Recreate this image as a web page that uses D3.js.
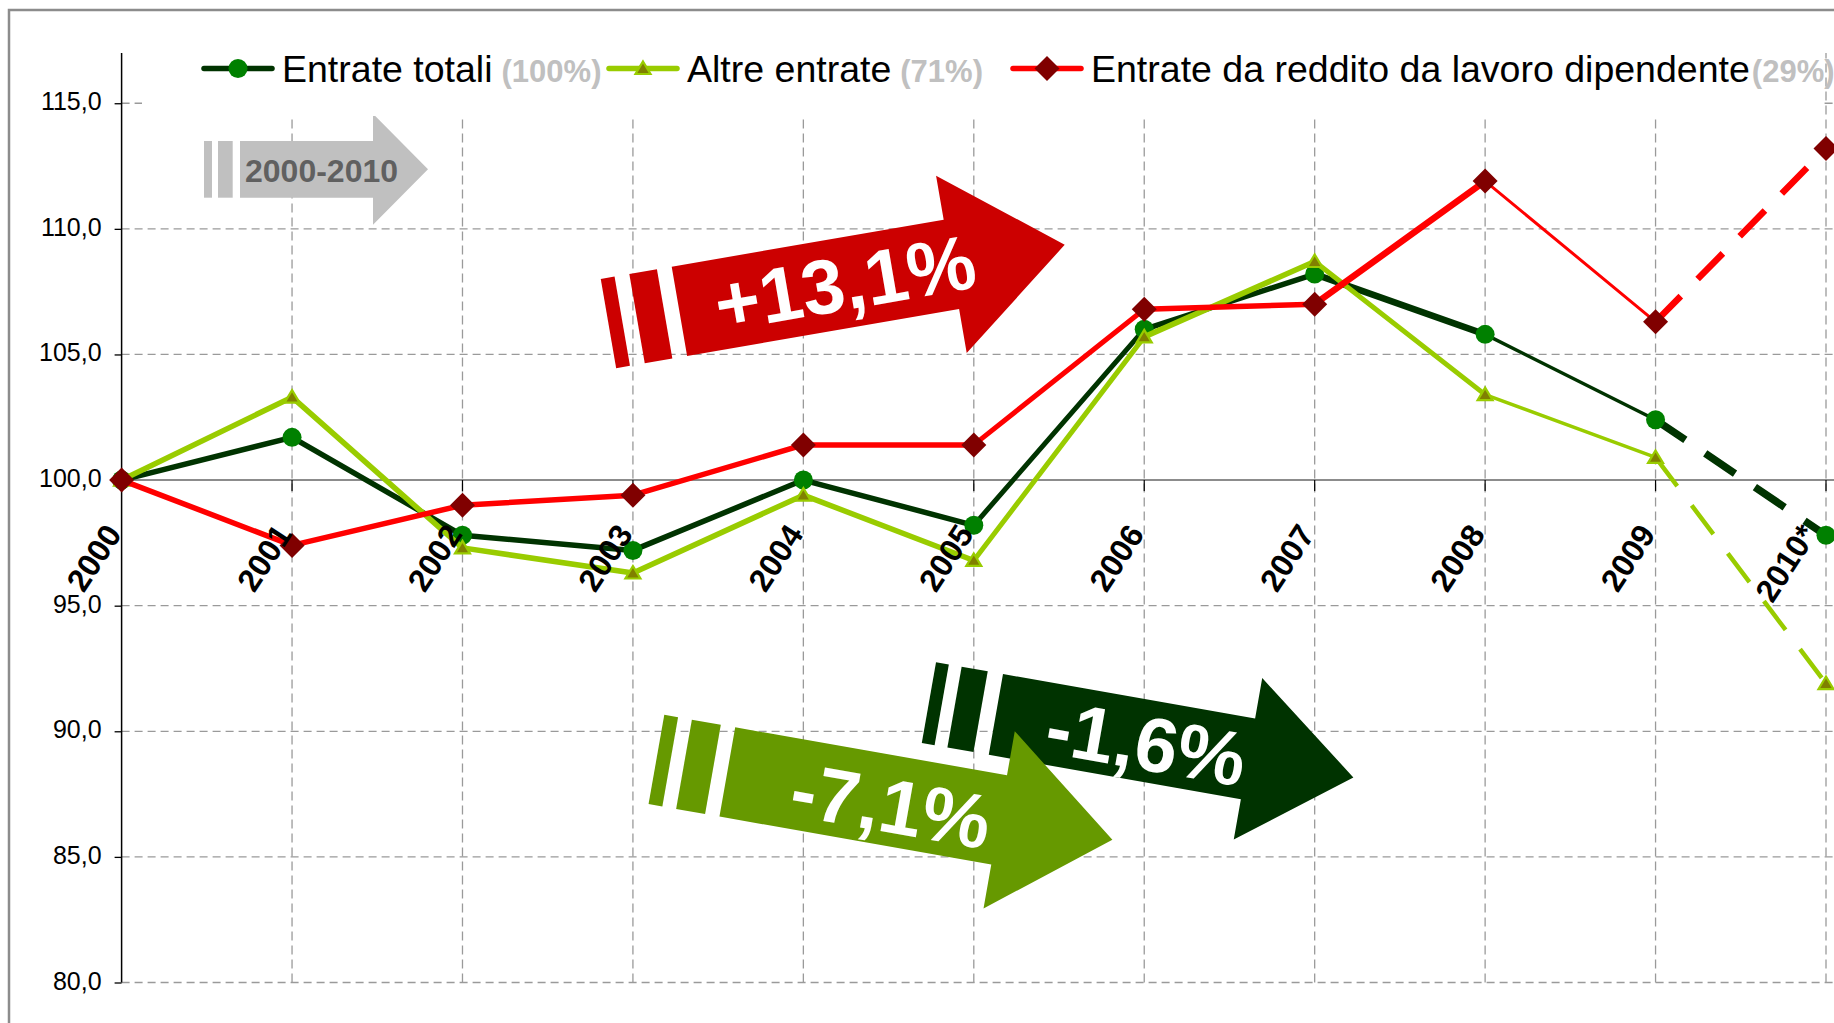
<!DOCTYPE html>
<html>
<head>
<meta charset="utf-8">
<script src="https://cdn.jsdelivr.net/npm/d3@7"></script>
<style>
  body { margin: 0; background: #fff; }
  svg { display: block; font-family: "Liberation Sans", Arial, sans-serif; }
</style>
</head>
<body>
<svg id="chart" width="1834" height="1023"></svg>
<script>
// data (index 2000 = 100)
var years = ["2000", "2001", "2002", "2003", "2004", "2005", "2006", "2007", "2008", "2009", "2010*"]
var entrateTotali = [100, 101.7, 97.8, 97.2, 100.0, 98.2, 106.0, 108.2, 105.8, 102.4, 97.8]
var altreEntrate = [100, 103.3, 97.3, 96.3, 99.4, 96.8, 105.7, 108.7, 103.4, 100.9, 91.9]
var redditoLavoro = [100, 97.4, 99.0, 99.4, 101.4, 101.4, 106.8, 107.0, 111.9, 106.3, 113.2]
var yTicks = [80, 85, 90, 95, 100, 105, 110, 115]
var legendNames = ["Entrate totali", "Altre entrate", "Entrate da reddito da lavoro dipendente"]
var legendShares = ["(100%)", "(71%)", "(29%)"]
var arrowLabels = ["2000-2010", "+13,1%", "-1,6%", "-7,1%"]

var svg = d3.select("#chart")

// italian number format: 115,0
var itFormat = d3.formatLocale({ decimal: ",", thousands: ".", grouping: [3], currency: ["", "€"] }).format(".1f")

var x = d3.scalePoint()
  .domain(years)
  .range([121.6, 1826])

var y = d3.scaleLinear()
  .domain([80, 117])
  .range([982.5, 53])

// outer frame of the original chart (only top and left are visible)
svg.append("path")
  .attr("d", "M9,1023 V10 H1834")
  .attr("fill", "none")
  .attr("stroke", "#8c8c8c")
  .attr("stroke-width", 2.5)

// horizontal dashed grid
svg.append("g")
  .selectAll("line")
  .data(yTicks.filter(function(d) { return d != 100 }))
  .join("line")
  .attr("x1", x(years[0]))
  .attr("x2", 1834)
  .attr("y1", function(d) { return y(d) })
  .attr("y2", function(d) { return y(d) })
  .attr("stroke", "#9a9a9a")
  .attr("stroke-width", 1.3)
  .attr("stroke-dasharray", "8,5")

// vertical dashed grid
svg.append("g")
  .selectAll("line")
  .data(years.slice(1))
  .join("line")
  .attr("x1", function(d) { return x(d) })
  .attr("x2", function(d) { return x(d) })
  .attr("y1", y(80))
  .attr("y2", y(117))
  .attr("stroke", "#9a9a9a")
  .attr("stroke-width", 1.3)
  .attr("stroke-dasharray", "9,5")

// category axis crosses at 100
svg.append("line")
  .attr("x1", x(years[0]))
  .attr("x2", 1834)
  .attr("y1", y(100))
  .attr("y2", y(100))
  .attr("stroke", "#666")
  .attr("stroke-width", 1.6)

svg.append("g")
  .selectAll("line")
  .data(years)
  .join("line")
  .attr("x1", function(d) { return x(d) })
  .attr("x2", function(d) { return x(d) })
  .attr("y1", y(100))
  .attr("y2", y(100) + 11)
  .attr("stroke", "#000")
  .attr("stroke-width", 1.2)

// value axis
var yAxis = svg.append("g")
  .attr("transform", "translate(" + x(years[0]) + ",0)")
  .call(d3.axisLeft(y).tickValues(yTicks).tickFormat(itFormat).tickSize(7).tickPadding(13))

yAxis.select(".domain")
  .attr("d", "M0," + y(117) + "V" + y(80))
  .attr("stroke", "#000")
  .attr("stroke-width", 1.5)

yAxis.selectAll(".tick line").attr("stroke", "#000").attr("stroke-width", 1.3)
yAxis.selectAll(".tick text")
  .attr("font-family", "Liberation Sans, Arial, sans-serif")
  .attr("font-size", 25)
  .attr("fill", "#000")
  .attr("dy", "0.26em")

//////////////////////////////////////// the big arrows
var arrows = [
  { label: arrowLabels[0], x: 240, y: 141, angle: 0, len: 133, h: 56.7, head: 55.5, tip: 55,
    stripes: [[-36, -28], [-22, -7.3]], color: "#c0c0c0", textColor: "#606060", fontSize: 32, tx: 5, ty: 40.7, anchor: "start" },
  { label: arrowLabels[1], x: 671.7, y: 266.7, angle: -9.8, len: 276, h: 90.6, head: 90, tip: 115,
    stripes: [[-72, -58], [-43, -15]], color: "#cc0000", textColor: "#fff", fontSize: 77, tx: 168, ty: 45.3 + 27, anchor: "middle" },
  { label: arrowLabels[2], x: 1003, y: 674, angle: 10, len: 256, h: 82, head: 82, tip: 107,
    stripes: [[-68, -55], [-42, -15.5]], color: "#003300", textColor: "#fff", fontSize: 77, tx: 153, ty: 43 + 27, anchor: "middle" },
  { label: arrowLabels[3], x: 735.2, y: 727.3, angle: 10, len: 276, h: 90.6, head: 90, tip: 115,
    stripes: [[-72, -58], [-44, -14.6]], color: "#669900", textColor: "#fff", fontSize: 77, tx: 167, ty: 50 + 27, anchor: "middle" }
]

arrows.forEach(function(a) {
  var grp = svg.append("g")
    .attr("transform", "translate(" + a.x + "," + a.y + ") rotate(" + a.angle + ")")

  a.stripes.forEach(function(s) {
    grp.append("rect")
      .attr("x", s[0])
      .attr("y", 0)
      .attr("width", s[1] - s[0])
      .attr("height", a.h)
      .attr("fill", a.color)
  })

  var c = a.h / 2
  var pts = [[0, 0], [a.len, 0], [a.len, c - a.head], [a.len + a.tip, c], [a.len, c + a.head], [a.len, a.h], [0, a.h]]
  grp.append("polygon")
    .attr("points", pts.map(function(p) { return p.join(",") }).join(" "))
    .attr("fill", a.color)

  grp.append("text")
    .attr("x", a.tx)
    .attr("y", a.ty)
    .attr("text-anchor", a.anchor)
    .attr("font-weight", "bold")
    .attr("font-size", a.fontSize)
    .attr("fill", a.textColor)
    .text(a.label)
})

//////////////////////////////////////// series
var series = [
  { values: entrateTotali, color: "#003300", widths: [5.5, 5.5, 5.5, 5.5, 5.5, 5, 5.5, 6.5, 3.5, 7.5], marker: "circle" },
  { values: altreEntrate, color: "#99cc00", widths: [5.5, 5.5, 5.5, 5.5, 5.5, 5, 5.5, 5, 3.5, 4.5], marker: "triangle" },
  { values: redditoLavoro, color: "#ff0000", widths: [5.5, 5.5, 5.5, 5.5, 5.5, 5, 5.5, 6.5, 3, 6.5], marker: "diamond" }
]

function drawMarker(g, type, cx, cy) {
  if (type == "circle") {
    g.append("circle").attr("cx", cx).attr("cy", cy).attr("r", 9.5).attr("fill", "#008000")
  } else if (type == "triangle") {
    g.append("path")
      .attr("d", "M" + cx + "," + (cy - 7) + " L" + (cx + 7.5) + "," + (cy + 5.5) + " L" + (cx - 7.5) + "," + (cy + 5.5) + " Z")
      .attr("fill", "#808000")
      .attr("stroke", "#99cc00")
      .attr("stroke-width", 2.2)
  } else {
    g.append("path")
      .attr("d", "M" + cx + "," + (cy - 12.5) + " L" + (cx + 12.5) + "," + cy + " L" + cx + "," + (cy + 12.5) + " L" + (cx - 12.5) + "," + cy + " Z")
      .attr("fill", "#800000")
  }
}

series.forEach(function(s) {
  var g = svg.append("g")
  // one segment per year so each piece can have its own width, last one (estimate) dashed
  for (var i = 0; i < s.values.length - 1; i++) {
    g.append("line")
      .attr("x1", x(years[i]))
      .attr("y1", y(s.values[i]))
      .attr("x2", x(years[i + 1]))
      .attr("y2", y(s.values[i + 1]))
      .attr("stroke", s.color)
      .attr("stroke-width", s.widths[i])
      .attr("stroke-linecap", i == s.values.length - 2 ? "butt" : "round")
      .attr("stroke-dasharray", i == s.values.length - 2 ? "36,24" : null)
  }
  s.values.forEach(function(v, i) {
    drawMarker(g, s.marker, x(years[i]), y(v))
  })
})

// year labels, rotated (the last one is pushed inside the picture like in excel)
svg.append("g")
  .selectAll("text")
  .data(years)
  .join("text")
  .attr("transform", function(d) { return "translate(" + Math.min(x(d) + 1, 1818) + "," + (y(100) + 54) + ") rotate(-57)" })
  .attr("text-anchor", "end")
  .attr("font-weight", "bold")
  .attr("font-size", 32)
  .attr("fill", "#000")
  .text(function(d) { return d })

//////////////////////////////////////// legend
svg.append("rect")
  .attr("x", 142)
  .attr("y", 18)
  .attr("width", 1678)
  .attr("height", 98)
  .attr("fill", "#fff")

var legendX = [204, 609, 1013]
var legendGap = [9, 9, 2]
var legendMarker = ["circle", "triangle", "diamond"]
var legendColor = ["#003300", "#99cc00", "#ff0000"]
var legendY = 68.5

legendNames.forEach(function(name, i) {
  var g = svg.append("g")
  g.append("line")
    .attr("x1", legendX[i])
    .attr("x2", legendX[i] + 68)
    .attr("y1", legendY)
    .attr("y2", legendY)
    .attr("stroke", legendColor[i])
    .attr("stroke-width", 5.5)
    .attr("stroke-linecap", "round")
  drawMarker(g, legendMarker[i], legendX[i] + 34, legendY)

  var t = g.append("text")
    .attr("x", legendX[i] + 78)
    .attr("y", 81.7)
    .attr("font-size", 37.5)
    .attr("fill", "#000")
    .text(name)
  var w = t.node().getComputedTextLength()

  g.append("text")
    .attr("x", legendX[i] + 78 + w + legendGap[i])
    .attr("y", 81.7)
    .attr("font-size", 31)
    .attr("font-weight", "bold")
    .attr("fill", "#c0c0c0")
    .text(legendShares[i])
})
</script>
</body>
</html>
